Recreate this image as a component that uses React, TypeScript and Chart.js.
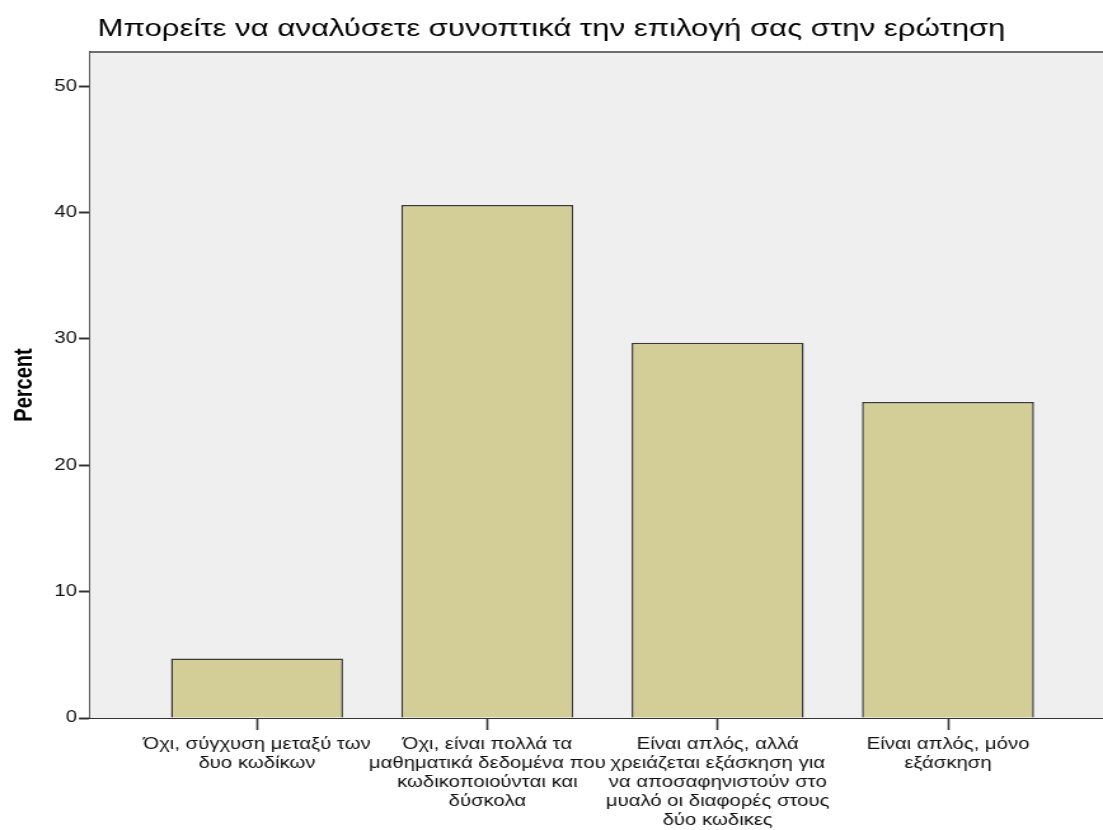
import React, { useEffect, useRef } from "react";
import { Chart, registerables } from "chart.js";

Chart.register(...registerables);

const TITLE = "Μπορείτε να αναλύσετε συνοπτικά την επιλογή σας στην ερώτηση";
const Y_TITLE = "Percent";
const CATEGORIES: string[][] = [
  ["Όχι, σύγχυση μεταξύ των", "δυο κωδίκων"],
  ["Όχι, είναι πολλά τα", "μαθηματικά δεδομένα που", "κωδικοποιούνται και", "δύσκολα"],
  ["Είναι απλός, αλλά", "χρειάζεται εξάσκηση για", "να αποσαφηνιστούν στο", "μυαλό οι διαφορές στους", "δύο κωδικες"],
  ["Είναι απλός, μόνο", "εξάσκηση"],
];
const PERCENTS = [4.7, 40.6, 29.7, 25.0];
const Y_TICKS = [0, 10, 20, 30, 40, 50];

const FONT = "'Liberation Sans', Arial, sans-serif";

// The reference picture is horizontally stretched; draw at a narrower size and stretch.
const OUT_W = 1103;
const OUT_H = 830;
const INNER_W = 868;
const SX = OUT_W / INNER_W;

const plotBg = {
  id: "plotBg",
  beforeDatasetsDraw(chart: any) {
    const { ctx, chartArea } = chart;
    ctx.save();
    ctx.fillStyle = "#efefef";
    ctx.fillRect(chartArea.left, chartArea.top, chartArea.right - chartArea.left, chartArea.bottom - chartArea.top);
    ctx.strokeStyle = "#6e6e6e";
    ctx.lineWidth = 2;
    ctx.beginPath();
    ctx.moveTo(chartArea.left, chartArea.top);
    ctx.lineTo(chartArea.right, chartArea.top);
    ctx.stroke();
    ctx.restore();
  },
};

export default function App() {
  const ref = useRef<HTMLCanvasElement>(null);
  useEffect(() => {
    if (!ref.current) return;
    const chart = new Chart(ref.current, {
      type: "bar",
      data: {
        datasets: [
          {
            data: PERCENTS.map((v, i) => ({ x: i, y: v })),
            backgroundColor: "#d3ce97",
            borderColor: "#3a3a3a",
            borderWidth: 1.5,
            barPercentage: 0.747,
            categoryPercentage: 1,
          },
        ],
      },
      options: {
        responsive: false,
        animation: false,
        devicePixelRatio: 1,
        layout: { padding: 0 },
        plugins: {
          legend: { display: false },
          tooltip: { enabled: false },
          title: {
            display: true,
            text: TITLE,
            color: "#000",
            align: "center",
            font: { family: FONT, size: 24.5, weight: "normal", lineHeight: 1.2 },
            padding: { top: 15, bottom: 7.6 },
          },
        },
        scales: {
          x: {
            type: "linear",
            min: -0.725,
            max: 3.673,
            offset: false,
            afterBuildTicks: (axis: any) => {
              axis.ticks = CATEGORIES.map((_, i) => ({ value: i }));
            },
            afterFit: (s: any) => {
              s.height = 112;
            },
            ticks: {
              autoSkip: false,
              maxRotation: 0,
              minRotation: 0,
              color: "#111",
              padding: 5,
              font: { family: FONT, size: 16, lineHeight: 1.19 },
              callback: (v: any) => CATEGORIES[Math.round(Number(v))] ?? "",
            },
            grid: { offset: false, drawOnChartArea: false, drawTicks: true, tickLength: 12, color: "#333", tickWidth: 1.6 },
            border: { display: true, color: "#333", width: 2 },
          },
          y: {
            min: 0,
            max: 52.7,
            afterBuildTicks: (axis: any) => {
              axis.ticks = Y_TICKS.map((v) => ({ value: v }));
            },
            afterFit: (s: any) => {
              s.width = 90 / SX;
            },
            ticks: {
              color: "#111",
              padding: 1.5,
              font: { family: FONT, size: 16 },
            },
            grid: { drawOnChartArea: false, drawTicks: true, tickLength: 8.7, color: "#333", tickWidth: 2 },
            border: { display: true, color: "#333", width: 1.6 },
            title: {
              display: true,
              text: Y_TITLE,
              color: "#000",
              font: { family: FONT, size: 20, weight: "bold", lineHeight: 1.2 },
              padding: { top: 7, bottom: 0 },
            },
          },
        },
      },
      plugins: [plotBg],
    });
    return () => chart.destroy();
  }, []);
  return (
    <div style={{ position: "absolute", left: 0, top: 0, width: OUT_W, height: OUT_H, background: "#fff", overflow: "hidden" }}>
      <canvas
        ref={ref}
        width={INNER_W}
        height={OUT_H}
        style={{ display: "block", transform: `scaleX(${SX})`, transformOrigin: "0 0" }}
      />
    </div>
  );
}
